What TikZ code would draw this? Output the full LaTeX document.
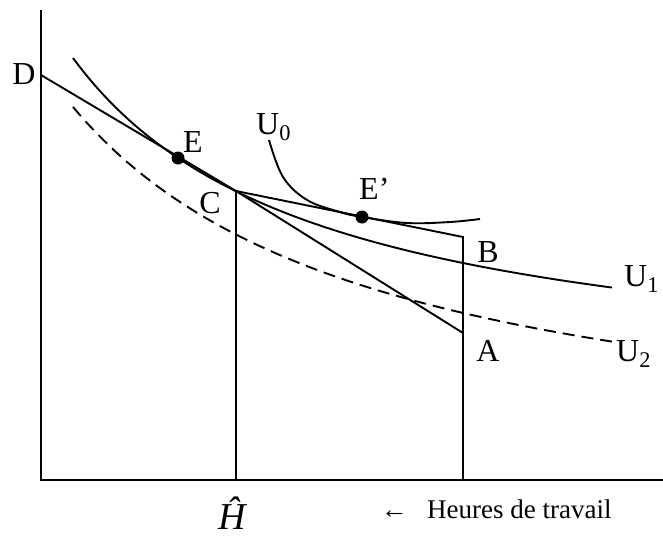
\documentclass[tikz,border=0pt]{standalone}
\usepackage{fontspec}
\setmainfont{Liberation Serif}
\usetikzlibrary{positioning,calc}
\newcommand{\usub}[1]{U\textsubscript{#1}}
\tikzset{
  axisln/.style={line width=2.1pt},
  budget/.style={line width=1.9pt},
  ucrv/.style={line width=1.9pt},
  ucrvd/.style={ucrv,dash pattern=on 12pt off 7pt},
  lbl/.style={font=\fontsize{32}{32}\selectfont,inner sep=0pt},
  axlbl/.style={font=\fontsize{27}{27}\selectfont,inner sep=0pt},
  dotpt/.style={circle,fill,inner sep=0pt,minimum size=13pt},
}

\begin{document}
\begin{tikzpicture}[x=1pt,y=-1pt]
  \useasboundingbox (0,0) rectangle (663,536);
  \coordinate (O) at (41,480);
  \coordinate (ytop) at (41,10);
  \coordinate (xend) at (663,480);
  \coordinate (D) at (41,75);
  \coordinate (C) at (236,191);
  \coordinate (A) at (463,333);
  \coordinate (B) at (463,237);
  \coordinate (Hb) at (236,480);
  \coordinate (Ab) at (463,480);
  \draw[axisln] (ytop) -- (O) -- (xend);
  \draw[budget] (D) -- (C) -- (A);
  \draw[budget] (C) -- (B) -- (Ab);
  \draw[budget] (C) -- (Hb);
  \draw[ucrv] plot[domain=73:612,samples=90] (\x,{392.3-822.34/((\x+173)/100)});
  \draw[ucrvd] plot[domain=73:612,samples=90] (\x,{475.9-1138.19/((\x+235.5)/100)});
  \draw[ucrv] plot[smooth,tension=0.6] coordinates
    {(269,140) (283,177) (307,200) (340,212) (362,217) (407,223) (450,222) (480,219)};
  \node[dotpt] (E) at (178,158) {};
  \node[dotpt] (Ep) at (362,217) {};
  \node[lbl] (lD) at (24,74) {D};
  \node[lbl] (lE) at (193,142) {E};
  \node[lbl] (lC) at (210,203) {C};
  \node[lbl,anchor=base west] (lEp) at (359,199) {E'};
  \node[lbl] (lB) at (488,252) {B};
  \node[lbl] (lA) at (488,351) {A};
  \node[lbl,anchor=base west] (lU0) at (256,134) {\usub{0}};
  \node[lbl,anchor=base west] (lU1) at (624,286) {\usub{1}};
  \node[lbl,anchor=base west] (lU2) at (616,361) {\usub{2}};
  \node[inner sep=0pt,font=\fontsize{38}{38}\selectfont\itshape,anchor=base] (lH) at (232,529) {\^{H}};
  \node[axlbl,anchor=base west] (hdt) at (427,518) {Heures de travail};
  \node[axlbl,anchor=base east] (arr) at (408,518) {←};
\end{tikzpicture}
\end{document}
